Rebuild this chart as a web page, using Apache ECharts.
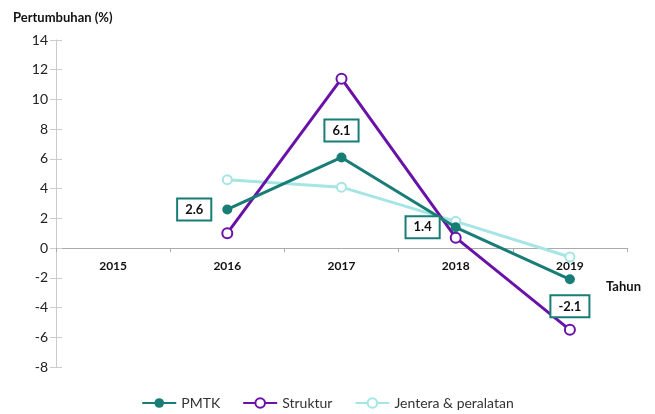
<!DOCTYPE html>
<html>
<head>
<meta charset="utf-8">
<script src="https://cdn.jsdelivr.net/npm/echarts@6/dist/echarts.min.js"></script>
<style>
  html, body { margin: 0; padding: 0; background: #fff; }
  #chart { width: 655px; height: 414px; }
</style>
</head>
<body>
<div id="chart"></div>
<script>
const years = ['2015', '2016', '2017', '2018', '2019']
const pmtk = [null, 2.6, 6.1, 1.4, -2.1]
const struktur = [null, 1.0, 11.4, 0.7, -5.5]
const jentera = [null, 4.6, 4.1, 1.8, -0.6]
// label side for each PMTK point
const pmtkLabelPos = [null, 'left', 'top', 'left', 'bottom']

const font = 'Lato, "DejaVu Sans", sans-serif'
const teal = '#177d76'
const purple = '#6a12a8'
const cyan = '#a5e5e3'

const chart = echarts.init(document.getElementById('chart'))

const pmtkData = pmtk.map((v, i) => {
  if (v === null) return null
  return { value: v, label: { position: pmtkLabelPos[i] } }
})

// grid: top 40, bottom edge at 367, y from -8 to 14 -> zero line position
const gridTop = 40
const gridBottom = 47
const plotH = 414 - gridTop - gridBottom
const zeroOffset = -plotH * 8 / 22

chart.setOption({
  animation: false,
  textStyle: { fontFamily: font },
  title: {
    text: 'Pertumbuhan (%)',
    left: 8,
    top: 6,
    textStyle: { fontSize: 13, fontWeight: 'bold', color: '#111', fontFamily: font }
  },
  graphic: [{
    type: 'text',
    left: 606,
    top: 280,
    style: { text: 'Tahun', font: 'bold 13px ' + font, fill: '#111' }
  }],
  legend: {
    bottom: -1,
    left: 'center',
    itemWidth: 34,
    itemHeight: 12,
    itemGap: 22,
    textStyle: { fontSize: 14, color: '#333', fontFamily: font },
    data: ['PMTK', 'Struktur', 'Jentera & peralatan']
  },
  grid: { left: 56, right: 28, top: gridTop, bottom: gridBottom },
  xAxis: {
    type: 'category',
    data: years,
    boundaryGap: true,
    offset: zeroOffset,
    axisLine: { onZero: false, lineStyle: { color: '#aaa', width: 1 } },
    axisTick: { show: true, length: 4, lineStyle: { color: '#aaa' } },
    axisLabel: { fontSize: 12, fontWeight: 'bold', color: '#111', margin: 12 },
    splitLine: { show: false }
  },
  yAxis: [{
    type: 'value',
    min: -8,
    max: 14,
    interval: 2,
    axisLine: { show: true, lineStyle: { color: '#ccc' } },
    axisTick: { show: true, length: 6, lineStyle: { color: '#ccc' } },
    axisLabel: { fontSize: 14, color: '#222', margin: 8 },
    splitLine: { show: false }
  }, {
    type: 'value',
    min: -8,
    max: 14,
    interval: 2,
    position: 'left',
    axisLine: { show: false, onZero: false },
    axisTick: { show: true, inside: true, length: 6, lineStyle: { color: '#ccc' } },
    axisLabel: { show: false },
    splitLine: { show: false }
  }],
  series: [
    {
      name: 'Jentera & peralatan',
      type: 'line',
      data: jentera,
      symbol: 'emptyCircle',
      symbolSize: 9,
      lineStyle: { color: cyan, width: 3 },
      itemStyle: { color: cyan, borderWidth: 2.5 },
      z: 2
    },
    {
      name: 'PMTK',
      type: 'line',
      data: pmtkData,
      symbol: 'circle',
      symbolSize: 10,
      lineStyle: { color: teal, width: 3 },
      itemStyle: { color: teal },
      label: {
        show: true,
        distance: 12,
        formatter: p => p.value.toFixed(1),
        fontSize: 13,
        fontWeight: 'bold',
        color: '#111',
        backgroundColor: '#fff',
        borderColor: teal,
        borderWidth: 2,
        padding: [4, 7, 3, 7]
      },
      z: 4
    },
    {
      name: 'Struktur',
      type: 'line',
      data: struktur,
      symbol: 'emptyCircle',
      symbolSize: 10,
      lineStyle: { color: purple, width: 3 },
      itemStyle: { color: purple, borderWidth: 2.5 },
      z: 3
    }
  ]
})
</script>
</body>
</html>
